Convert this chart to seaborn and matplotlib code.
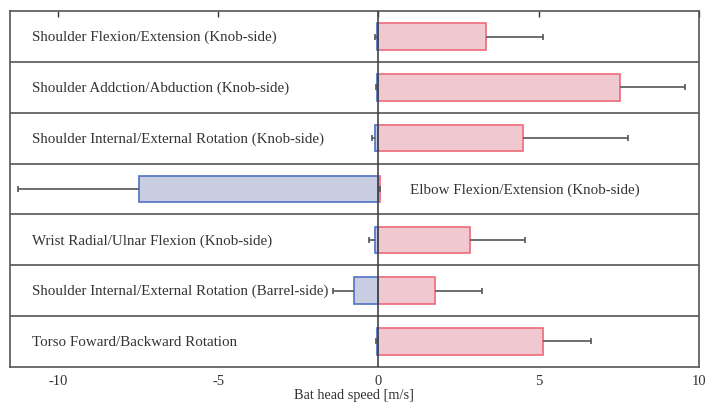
import matplotlib
matplotlib.use('Agg')
import matplotlib.pyplot as plt
import seaborn as sns
import pandas as pd

# ── data ──────────────────────────────────────────────
motions = [
    "Shoulder Flexion/Extension (Knob-side)",
    "Shoulder Addction/Abduction (Knob-side)",
    "Shoulder Internal/External Rotation (Knob-side)",
    "Elbow Flexion/Extension (Knob-side)",
    "Wrist Radial/Ulnar Flexion (Knob-side)",
    "Shoulder Internal/External Rotation (Barrel-side)",
    "Torso Foward/Backward Rotation",
]
neg_mean = [-0.05, -0.03, -0.10, -7.48, -0.12, -0.75, -0.03]
neg_sd   = [0.06, 0.04, 0.10, 3.78, 0.16, 0.68, 0.05]
pos_mean = [3.35, 7.54, 4.50, 0.05, 2.86, 1.75, 5.14]
pos_sd   = [1.79, 2.01, 3.28, 0.00, 1.71, 1.48, 1.50]

sns.set_style("white")
plt.rcParams['font.family'] = ['Liberation Serif', 'DejaVu Serif']
plt.rcParams['axes.unicode_minus'] = False

df = pd.DataFrame({"motion": motions, "neg": neg_mean, "pos": pos_mean})

fig, ax = plt.subplots(figsize=(7.06, 4.06), dpi=100)

sns.barplot(data=df, x="pos", y="motion", order=motions, orient="h",
            color="#F6C3CC", edgecolor="#EE6A7A", linewidth=1.2,
            width=0.52, ax=ax)
sns.barplot(data=df, x="neg", y="motion", order=motions, orient="h",
            color="#C5CAE6", edgecolor="#4F72C4", linewidth=1.2,
            width=0.52, ax=ax)

ypos = list(range(len(motions)))
# one-sided error bars (outward only), cap only at the far end
pos_end = [m + s for m, s in zip(pos_mean, pos_sd)]
neg_end = [m - s for m, s in zip(neg_mean, neg_sd)]
ax.hlines(ypos, pos_mean, pos_end, color="#555555", lw=1.2, zorder=1)
ax.hlines(ypos, neg_end, neg_mean, color="#555555", lw=1.2, zorder=1)
ax.plot(pos_end, ypos, ls="none", marker="|", ms=5, mew=1.2, color="#555555")
ax.plot(neg_end, ypos, ls="none", marker="|", ms=5, mew=1.2, color="#555555")

# row separators and zero line
for y in range(len(motions) - 1):
    ax.axhline(y + 0.5, color="#555555", lw=1.2)
ax.axvline(0, color="#444444", lw=1.2, zorder=3)

# row labels
for i, name in enumerate(motions):
    if neg_mean[i] < -2:
        ax.text(1.0, i, name, va="center", ha="left", fontsize=10.8, color="#333333")
    else:
        ax.text(-10.8, i, name, va="center", ha="left", fontsize=10.8, color="#333333")

ax.set_xlim(-11.5, 10)
ax.set_ylim(len(motions) - 0.5, -0.5)
ax.set_xticks([-10, -5, 0, 5, 10])
ax.set_yticks([])
ax.set_ylabel("")
ax.set_xlabel("Bat head speed [m/s]", fontsize=10.3, color="#333333", labelpad=1)
ax.tick_params(axis="x", direction="in", top=True, length=4, width=1,
               labelsize=10.5, colors="#333333", pad=5)
for sp in ax.spines.values():
    sp.set_visible(True)
    sp.set_color("#555555")
    sp.set_linewidth(1.2)

fig.subplots_adjust(left=0.014, right=0.99, top=0.97, bottom=0.094)
fig.savefig("out.png", dpi=100)
plt.close()
